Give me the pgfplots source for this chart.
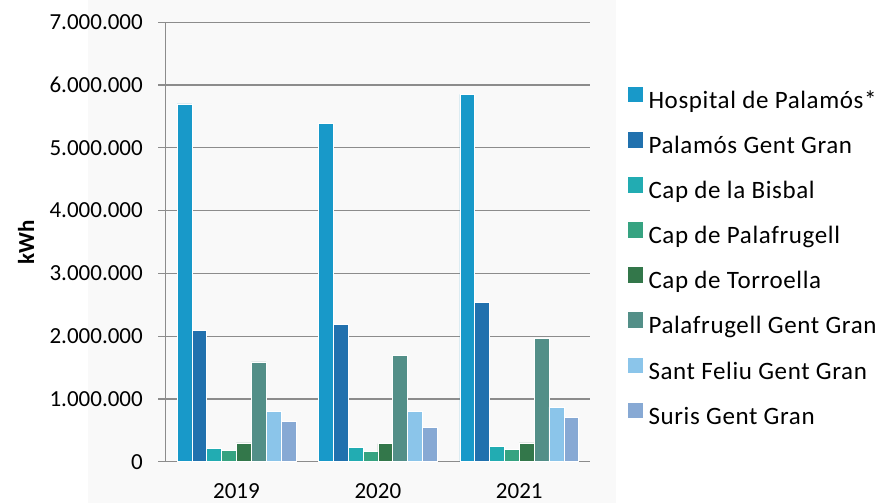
\documentclass[border=0pt]{standalone}
\usepackage{fontspec}
\setmainfont{Carlito}
\usepackage{pgfplots}
\pgfplotsset{compat=1.18}
\definecolor{c1}{RGB}{24,153,201}
\definecolor{c2}{RGB}{33,113,174}
\definecolor{c3}{RGB}{34,172,178}
\definecolor{c4}{RGB}{54,163,129}
\definecolor{c5}{RGB}{51,119,74}
\definecolor{c6}{RGB}{83,143,136}
\definecolor{c7}{RGB}{139,197,234}
\definecolor{c8}{RGB}{135,169,212}
\definecolor{bgc}{RGB}{249,249,249}
\definecolor{gridc}{RGB}{140,140,140}
\begin{document}
\fontsize{23bp}{27bp}\selectfont
\begin{tikzpicture}
\fill[white] (0,0) rectangle (876bp,503bp);
\fill[bgc] (88bp,0) rectangle (616bp,503bp);
\begin{axis}[
  at={(165.7bp,41.3bp)}, anchor=south west,
  scale only axis, width=424.3bp, height=439.4bp,
  ybar=0pt, bar width=0.105,
  xmin=-0.5, xmax=2.5, ymin=0, ymax=7000000,
  xtick={0,1,2}, xticklabels={2019,2020,2021},
  ytick={0,1000000,2000000,3000000,4000000,5000000,6000000,7000000},
  yticklabels={0,1.000.000,2.000.000,3.000.000,4.000.000,5.000.000,6.000.000,7.000.000},
  scaled y ticks=false,
  axis x line*=bottom, axis y line*=left,
  axis line style={draw=gridc, line width=1.3bp},
  ymajorgrids, grid style={draw=gridc, line width=1.3bp},
  tick align=outside,
  major tick length=7.4bp,
  x tick style={draw=none},
  y tick style={draw=gridc, line width=1.3bp},
  yticklabel style={anchor=east, inner sep=0pt, xshift=-15.3bp},
  xticklabel style={anchor=north, inner sep=0pt, yshift=-14.4bp},
  ylabel={\bfseries kWh},
  every axis y label/.style={at={(axis description cs:-0.3292,0.5)}, rotate=90, anchor=center},
  legend style={at={(1.0896,0.8528)}, anchor=north west, draw=none, fill=none,
    inner sep=0pt, outer sep=0pt, row sep=18.6bp,
    font=\fontsize{25bp}{29bp}\selectfont\addfontfeatures{LetterSpace=2.5},
    nodes={inner sep=0pt, text height=17bp, text depth=5bp},
    /tikz/every odd column/.append style={column sep=6bp}},
  legend cell align=left,
  legend image code/.code={\fill[#1,draw=none] (0bp,0bp) rectangle (14.5bp,15.5bp);},
  every axis plot/.append style={draw=white, line width=0.6bp},
]
\addplot[fill=c1] coordinates {(0,5700000) (1,5390000) (2,5850000)};
\addplot[fill=c2] coordinates {(0,2090000) (1,2190000) (2,2540000)};
\addplot[fill=c3] coordinates {(0,213000) (1,223000) (2,239000)};
\addplot[fill=c4] coordinates {(0,175000) (1,170000) (2,197000)};
\addplot[fill=c5] coordinates {(0,300000) (1,287000) (2,300000)};
\addplot[fill=c6] coordinates {(0,1590000) (1,1690000) (2,1965000)};
\addplot[fill=c7] coordinates {(0,800000) (1,800000) (2,870000)};
\addplot[fill=c8] coordinates {(0,643000) (1,548000) (2,710000)};
\legend{Hospital de Palamós*,Palamós Gent Gran,Cap de la Bisbal,Cap de Palafrugell,Cap de Torroella,Palafrugell Gent Gran,Sant Feliu Gent Gran,Suris Gent Gran}
\end{axis}
\pgfresetboundingbox
\useasboundingbox (0,0) rectangle (876bp,503bp);
\end{tikzpicture}
\end{document}
